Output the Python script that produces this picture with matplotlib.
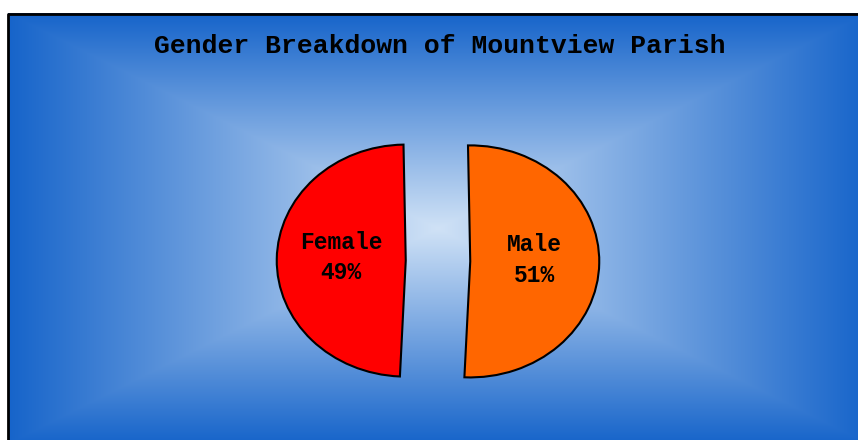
import matplotlib.pyplot as plt
import numpy as np

# data
labels = ["Female", "Male"]
shares = [49, 51]
colors = ["#ff0000", "#ff6600"]
title = "Gender Breakdown of Mountview Parish"

fig = plt.figure(figsize=(8.58, 4.40), dpi=100)

# background: rectangular gradient, light centre to blue edges
bg = fig.add_axes([0, 0, 1, 1])
bg.set_xlim(0, 858)
bg.set_ylim(440, 0)
bg.axis("off")
x0, x1, y0, y1 = 8, 868, 14, 444
xs = np.linspace(x0, x1, 860)
ys = np.linspace(y0, y1, 430)
X, Y = np.meshgrid(xs, ys)
cx, cy = (x0 + x1) / 2, (y0 + y1) / 2
t = np.maximum(np.abs(X - cx) / ((x1 - x0) / 2), np.abs(Y - cy) / ((y1 - y0) / 2))
inner = np.array([208, 226, 246]) / 255
outer = np.array([22, 100, 202]) / 255
img = inner[None, None, :] * (1 - t[..., None]) + outer[None, None, :] * t[..., None]
bg.imshow(img, extent=(x0, x1, y1, y0), aspect="auto", zorder=0)
bg.plot([x0, x0, 870], [445, y0, y0], color="black", lw=2, zorder=2)

bg.text(440, 46, title, ha="center", va="center", fontsize=19,
        family="Liberation Mono", fontweight="bold", color="black")

# pie
ax = fig.add_axes([(438 - 193.5) / 858, 5 / 440, 387 / 858, 348 / 440])
wedges, _ = ax.pie(shares, colors=colors, startangle=91, explode=[0.25, 0.25],
                   wedgeprops=dict(edgecolor="black", linewidth=1.5))
ax.set_aspect("auto")
ax.set_xlim(-1.5, 1.5)
ax.set_ylim(-1.5, 1.5)
ax.patch.set_alpha(0)
ax.axis("off")

for w, lab, v in zip(wedges, labels, shares):
    mid = np.deg2rad((w.theta1 + w.theta2) / 2)
    px = w.center[0] + 0.5 * np.cos(mid)
    py = w.center[1] + 0.5 * np.sin(mid) + 0.02
    ax.text(px, py, f"{lab}\n{v}%", ha="center", va="center", fontsize=16.5,
            family="Liberation Mono", fontweight="bold", linespacing=1.42)

fig.savefig("out.png", dpi=100)
